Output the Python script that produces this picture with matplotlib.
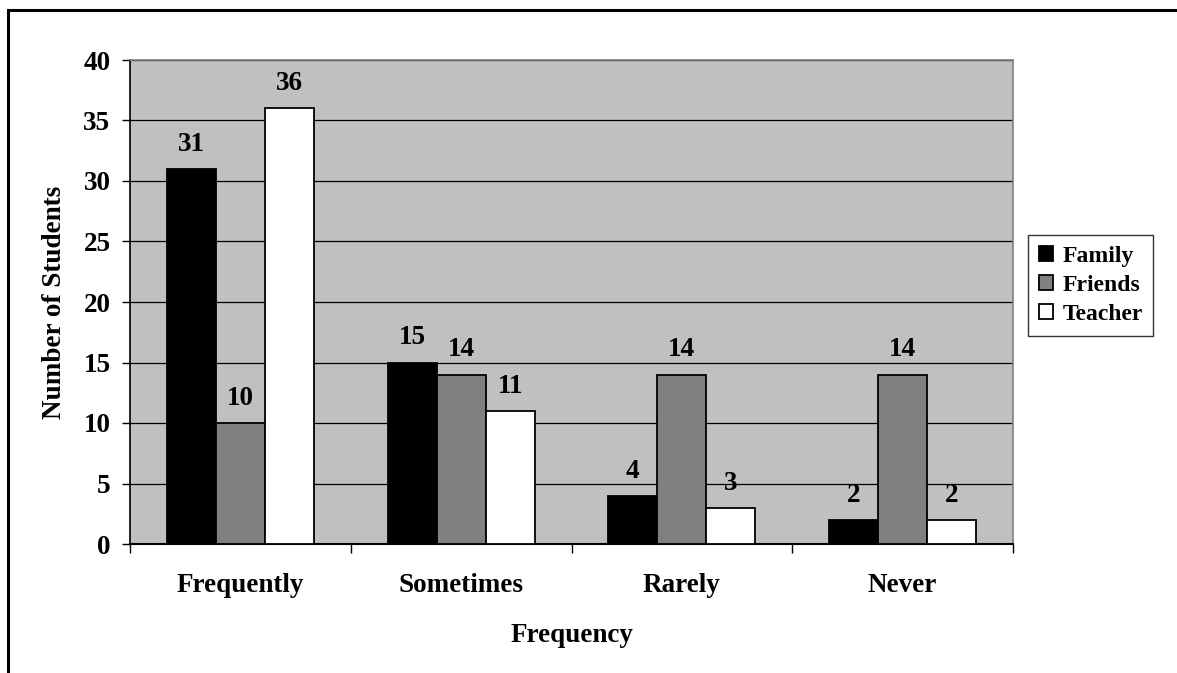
import matplotlib.pyplot as plt
from matplotlib.patches import Rectangle
import numpy as np

plt.rcParams['font.family'] = 'Liberation Serif'
plt.rcParams['font.weight'] = 'bold'

categories = ['Frequently', 'Sometimes', 'Rarely', 'Never']
family = [31, 15, 4, 2]
friends = [10, 14, 14, 14]
teacher = [36, 11, 3, 2]
series_names = ['Family', 'Friends', 'Teacher']
series_colors = ['#000000', '#808080', '#ffffff']

fig = plt.figure(figsize=(11.77, 6.73), dpi=100)
ax = fig.add_axes([130 / 1177, 1 - 544 / 673, 883 / 1177, 484 / 673])

# outer chart frame (only top and left edges fall inside the image)
fig.patches.append(Rectangle((8 / 1177, -0.2), 1.5, 1 - 10 / 673 + 0.2,
                             transform=fig.transFigure, fill=False,
                             edgecolor='black', linewidth=2.2, zorder=0))

ax.set_facecolor('#c0c0c0')
x = np.arange(len(categories))
w = 1 / 4.5
for i, (vals, name, col) in enumerate(zip([family, friends, teacher],
                                          series_names, series_colors)):
    pos = x + (i - 1) * w
    ax.bar(pos, vals, width=w, color=col, edgecolor='black', linewidth=1.3,
           label=name, zorder=3)
    for px, v in zip(pos, vals):
        ax.text(px, v + 1.0, str(v), ha='center', va='bottom',
                fontsize=19.5, fontweight='bold')

ax.set_xlim(-0.5, 3.5)
ax.set_ylim(0, 40)
ax.set_yticks(range(0, 41, 5))
ax.yaxis.grid(True, color='black', linewidth=0.9)
ax.set_axisbelow(True)

ax.set_xticks(x)
ax.set_xticklabels(categories, fontsize=19.5, fontweight='bold')
ax.tick_params(axis='x', which='major', length=0, pad=21)
ax.set_xticks(np.arange(-0.5, 4, 1), minor=True)
ax.tick_params(axis='x', which='minor', length=6.5, width=1, direction='out')
ax.tick_params(axis='y', labelsize=19.5, length=6, width=1, pad=8)

for s in ['top', 'right']:
    ax.spines[s].set_color('#808080')
    ax.spines[s].set_linewidth(1.2)
ax.spines['left'].set_linewidth(1.2)
ax.spines['bottom'].set_linewidth(1.5)

ax.set_xlabel('Frequency', fontsize=19.5, fontweight='bold', labelpad=18)
ax.set_ylabel('Number of Students', fontsize=19.5, fontweight='bold', labelpad=12)

leg = ax.legend(loc='center left', bbox_to_anchor=((1028 - 130) / 883, 0.534),
                fontsize=17, frameon=True, fancybox=False, edgecolor='black',
                handlelength=0.6, handleheight=0.6, handletextpad=0.4,
                borderpad=0.45, labelspacing=0.35, borderaxespad=0)
leg.get_frame().set_linewidth(1.0)
for t in leg.get_texts():
    t.set_fontweight('bold')

fig.savefig('out.png', dpi=100, facecolor='white')
